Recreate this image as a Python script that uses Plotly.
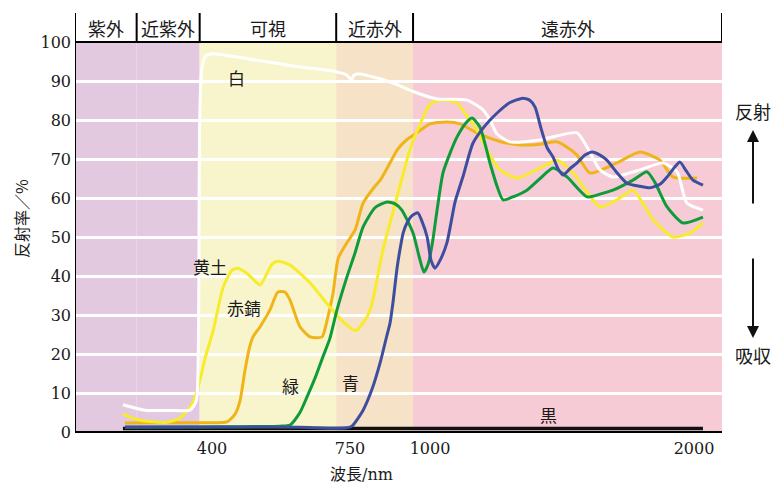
import numpy as np
import plotly.graph_objects as go

# ---- reflectance spectra: wavelength (nm) and reflectance (%) ----
white_nm = [270, 302, 346, 368, 377, 380, 381, 382, 385, 391, 403, 496, 623, 714, 742, 755,
            762, 781, 875, 947, 1027, 1140, 1201, 1227, 1254, 1303, 1417, 1557, 1595, 1644,
            1693, 1795, 1883, 1936, 1973, 2034]
white_r = [7.0, 5.6, 5.5, 5.6, 8, 20, 50, 80, 93, 96.5, 97, 95.6, 93.6, 92.4, 91.5, 90.3,
           91.5, 91.8, 89.8, 87.3, 85.4, 85.1, 82.6, 80, 76.4, 74.4, 74.9, 76.7, 73, 67.2,
           65.4, 67.2, 69, 66.7, 58.7, 56.9]

ochre_nm = [270, 295, 334, 353, 372, 382, 390, 403, 428, 451, 466, 484, 496, 522, 552, 567,
            598, 649, 699, 742, 769, 803, 819, 853, 897, 937, 969, 1000, 1038, 1102, 1140,
            1178, 1216, 1265, 1330, 1417, 1481, 1542, 1644, 1708, 1769, 1845, 1920, 1985, 2034]
ochre_r = [4.6, 3.0, 2.5, 3.6, 7.5, 13, 19, 26, 37, 41.5, 42, 41, 40, 37.7, 43, 43.8,
           42.8, 38.2, 32, 27.4, 26, 29.5, 33, 46.7, 60.3, 72.3, 79, 84, 85.1, 84.4, 81,
           77.4, 72.3, 67.2, 65.1, 67.7, 69.7, 66.4, 57.7, 59.5, 62, 54.4, 50, 51, 53.6]

rust_nm = [273, 324, 382, 438, 458, 471, 484, 496, 504, 522, 547, 567, 585, 598, 623, 649,
           679, 692, 707, 720, 742, 766, 791, 828, 844, 875, 897, 928, 959, 1000, 1064, 1114,
           1178, 1265, 1341, 1417, 1481, 1530, 1557, 1606, 1708, 1795, 1871, 1920, 2011]
rust_r = [2.3, 2.4, 2.4, 2.6, 4.5, 8, 16, 22, 24.4, 27, 31.3, 35.9, 35.9, 33.8, 27, 24.4,
          24.4, 28.7, 35.6, 44.5, 48.5, 51.8, 58.7, 63, 64.5, 69, 72.3, 75, 76.7, 79, 79.5, 79,
          76.7, 74.5, 73.6, 73.8, 74.4, 72.5, 71, 66.4, 69, 71.8, 69.7, 65.4, 65.1]

green_nm = [273, 382, 572, 598, 623, 641, 662, 681, 699, 717, 742, 766, 791, 828, 866, 891,
            912, 947, 966, 981, 994, 1008, 1027, 1049, 1076, 1102, 1133, 1159, 1189, 1227,
            1254, 1277, 1322, 1367, 1417, 1466, 1519, 1595, 1644, 1693, 1769, 1822, 1852,
            1898, 1958, 2034]
green_r = [1.2, 1.3, 1.5, 1.8, 5, 9, 14, 19.2, 24, 31.3, 39.7, 46, 52.6, 57.5, 59, 58.5,
           56.9, 51, 45, 41, 43, 48, 57, 66.4, 71.5, 75.6, 79, 80.5, 78.2, 69,
           63, 59.5, 60.5, 62, 65, 67.7, 65.4, 60.3, 61, 62, 64.6, 66.7, 64,
           57.7, 53.6, 55.1]

blue_nm = [273, 496, 623, 737, 756, 791, 819, 844, 866, 875, 884, 897, 906, 916, 928, 944,
           962, 975, 991, 1004, 1019, 1038, 1064, 1095, 1125, 1163, 1208, 1254, 1303, 1352,
           1379, 1398, 1420, 1443, 1466, 1485, 1504, 1530, 1557, 1587, 1614, 1644, 1670,
           1708, 1746, 1795, 1833, 1871, 1898, 1928, 1947, 1970, 1996, 2034]
blue_r = [1.3, 1.3, 1.2, 1.0, 1.5, 5.6, 11, 17.7, 25, 27.9, 33, 42, 46.7, 51, 53.6, 55.5,
          56.2, 54, 50, 44, 42, 44, 48.5, 59, 65.5, 74.1, 78.5, 81.8, 84.5, 85.6,
          85, 83.3, 78, 73, 70.5, 67.5, 65.9, 67.5, 69, 71, 71.8, 71, 69.7,
          66.5, 63.8, 63, 62.6, 63.5, 65.4, 68, 69.2, 67, 64.6, 63.3]

black_nm = [270, 2034]
black_r = [0.9, 0.9]

# ---- wavelength bands along the top ----
band_names = ["紫外", "近紫外", "可視", "近赤外", "遠赤外"]
band_edges_nm = [200, 290, 382, 715, 947, 2106]
band_colors = ["#E3C9DF", "#E3C9DF", "#F8F5CC", "#F6E2C6", "#F6CBD6"]

# ---- broken wavelength axis ----
axis_nm = [200, 400, 750, 1000, 2000, 2106]
axis_pos = [0, 137, 275, 355, 619, 647]
tick_nm = [400, 750, 1000, 2000]
y_ticks = list(range(0, 101, 10))


def to_axis(nm):
    return np.interp(np.asarray(nm, dtype=float), axis_nm, axis_pos)


SERIF = "DejaVu Serif, Noto Sans CJK JP"
CJK = "Noto Sans CJK JP, DejaVu Serif"
INK = "#1a1a1a"
HEADER_TOP = 1 + 29 / 390

fig = go.Figure()

series = [
    (white_nm, white_r, "#FFFFFF", 3),
    (black_nm, black_r, "#111111", 3.5),
    (green_nm, green_r, "#0F9B3A", 3),
    (blue_nm, blue_r, "#3D4E9E", 3),
    (rust_nm, rust_r, "#F0B418", 3),
    (ochre_nm, ochre_r, "#F7EC2C", 3),
]
order = [1, 4, 5, 0, 2, 3]
for i in order:
    nm, r, color, w = series[i]
    fig.add_trace(go.Scatter(
        x=to_axis(nm), y=r, mode="lines",
        line=dict(color=color, width=w, shape="spline", smoothing=0.6),
        hoverinfo="skip", showlegend=False,
    ))

shapes = []
for k, name in enumerate(band_names):
    x0, x1 = to_axis([band_edges_nm[k], band_edges_nm[k + 1]])
    shapes.append(dict(type="rect", xref="x", yref="y", x0=x0, x1=x1, y0=0, y1=100,
                       fillcolor=band_colors[k], line_width=0, layer="below"))
# header dividers
for e in band_edges_nm:
    xe = float(to_axis(e))
    shapes.append(dict(type="line", xref="x", yref="paper", x0=xe, x1=xe,
                       y0=1, y1=HEADER_TOP, line=dict(color="black", width=2)))
shapes.append(dict(type="line", xref="x", yref="paper", x0=0, x1=float(to_axis(band_edges_nm[-1])),
                   y0=1, y1=1, line=dict(color="black", width=2)))
shapes.append(dict(type="line", xref="x", yref="paper", x0=0, x1=0,
                   y0=0, y1=HEADER_TOP, line=dict(color="black", width=2)))
shapes.append(dict(type="line", xref="paper", yref="paper", x0=0, x1=1,
                   y0=0, y1=0, line=dict(color="black", width=2)))

annotations = []


def label(x, y, text, size, xref="paper", yref="paper", family=CJK, **kw):
    annotations.append(dict(x=x, y=y, xref=xref, yref=yref, text=text, showarrow=False,
                            xanchor="center", yanchor="middle",
                            font=dict(family=family, size=size, color=INK), **kw))


for k, name in enumerate(band_names):
    xc = float(np.mean(to_axis([band_edges_nm[k], band_edges_nm[k + 1]])))
    label(xc, (1 + HEADER_TOP) / 2 - 0.002, name, 18, xref="x")

# curve labels
curve_labels = [("白", 463, 91), ("黄土", 397, 42.5), ("赤錆", 481, 31.8),
                ("緑", 600, 11.8), ("青", 753, 12.8), ("黒", 1447, 4.6)]
for text, nm, r in curve_labels:
    label(float(to_axis(nm)), r, text, 17, xref="x", yref="y")

# axis titles
label((361 - 75) / 647, (432 - 474) / 390, "波長/nm", 16, family=SERIF)
label((21 - 75) / 647, (432 - 218) / 390, "反射率／%", 16, textangle=-90)

# reflect / absorb indicators on the right
rx = (753 - 75) / 647
label(rx, (432 - 111) / 390, "反射", 18)
label(rx, (432 - 355) / 390, "吸収", 18)
for tip, tail in [(130, 205), (338, 257)]:
    annotations.append(dict(x=rx, y=(432 - tip) / 390, ax=rx, ay=(432 - tail) / 390,
                            xref="x domain", yref="y domain", axref="x domain", ayref="y domain",
                            text="", showarrow=True, arrowhead=2, arrowsize=1.2, arrowwidth=2,
                            arrowcolor="#111"))

fig.update_layout(
    width=772, height=486,
    margin=dict(l=75, r=50, t=42, b=54),
    paper_bgcolor="white", plot_bgcolor="white",
    shapes=shapes, annotations=annotations,
    xaxis=dict(range=[0, 647], tickvals=to_axis(tick_nm).tolist(),
               ticktext=[str(t) for t in tick_nm], showgrid=False, zeroline=False,
               ticks="", ticklabelstandoff=5,
               tickfont=dict(family=SERIF, size=16, color=INK)),
    yaxis=dict(range=[0, 100], tickvals=y_ticks, showgrid=True, gridcolor="white",
               gridwidth=2.5, zeroline=False, ticks="", ticklabelstandoff=3,
               tickfont=dict(family=SERIF, size=16, color=INK)),
)

fig.write_html("out.html")
